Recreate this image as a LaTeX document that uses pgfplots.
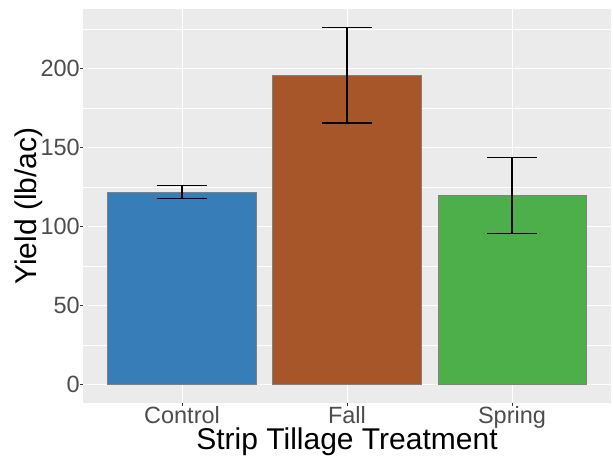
\documentclass[border=0pt]{standalone}
\usepackage{pgfplots}
\pgfplotsset{compat=1.18}
\usepackage{fontspec}
\setmainfont{Liberation Sans}
\definecolor{panelbg}{HTML}{EBEBEB}
\definecolor{grey30}{HTML}{4D4D4D}
\definecolor{grey20}{HTML}{333333}
\definecolor{cblue}{HTML}{377EB8}
\definecolor{cbrown}{HTML}{A65628}
\definecolor{cgreen}{HTML}{4DAF4A}
\pgfplotsset{
  errbar/.style={
    error bars/.cd, y dir=both, y explicit,
    error mark=|,
    error bar style={black, line width=1.2bp},
    error mark options={black, line width=1.2bp, mark size=24.75bp}},
  barstyle/.style={ybar, bar width=0.9, bar shift=0pt, draw=black!50, line width=0.5bp},
}
\begin{document}
\begin{tikzpicture}
\path[use as bounding box] (-83bp,-53bp) rectangle (530bp,403bp);
\begin{axis}[
  scale only axis,
  width=528bp, height=394bp,
  xmin=0.4, xmax=3.6,
  ymin=-11.8, ymax=237.5,
  xtick={1,2,3},
  xticklabels={Control,Fall,Spring},
  ytick={0,50,100,150,200},
  minor ytick={25,75,125,175,225},
  grid=both,
  major grid style={white, line width=0.9bp},
  minor grid style={white, line width=0.45bp},
  axis background/.style={fill=panelbg},
  axis line style={draw=none},
  tick align=outside,
  major tick length=2.5bp,
  minor tick length=0pt,
  tick style={grey20, line width=0.8bp},
  /pgf/number format/assume math mode=true,
  ticklabel style={font=\fontsize{23.5bp}{28bp}\selectfont, text=grey30, inner sep=0pt},
  yticklabel style={anchor=east, xshift=-0.5bp},
  xticklabel style={anchor=base, yshift=-18bp},
  xtick pos=bottom, ytick pos=left,
]
\addplot[barstyle, fill=cblue, errbar]
  coordinates {(1,121.5) += (0,4.2) -= (0,3.8)};
\addplot[barstyle, fill=cbrown, errbar]
  coordinates {(2,195.8) += (0,30.2) -= (0,30.4)};
\addplot[barstyle, fill=cgreen, errbar]
  coordinates {(3,119.4) += (0,24.3) -= (0,23.8)};
\end{axis}
\node[anchor=base, font=\fontsize{30bp}{36bp}\selectfont] at (264bp,-46bp) {Strip Tillage Treatment};
\node[anchor=base, rotate=90, font=\fontsize{30bp}{36bp}\selectfont] at (-46.5bp,197bp) {Yield (lb/ac)};
\end{tikzpicture}
\end{document}
